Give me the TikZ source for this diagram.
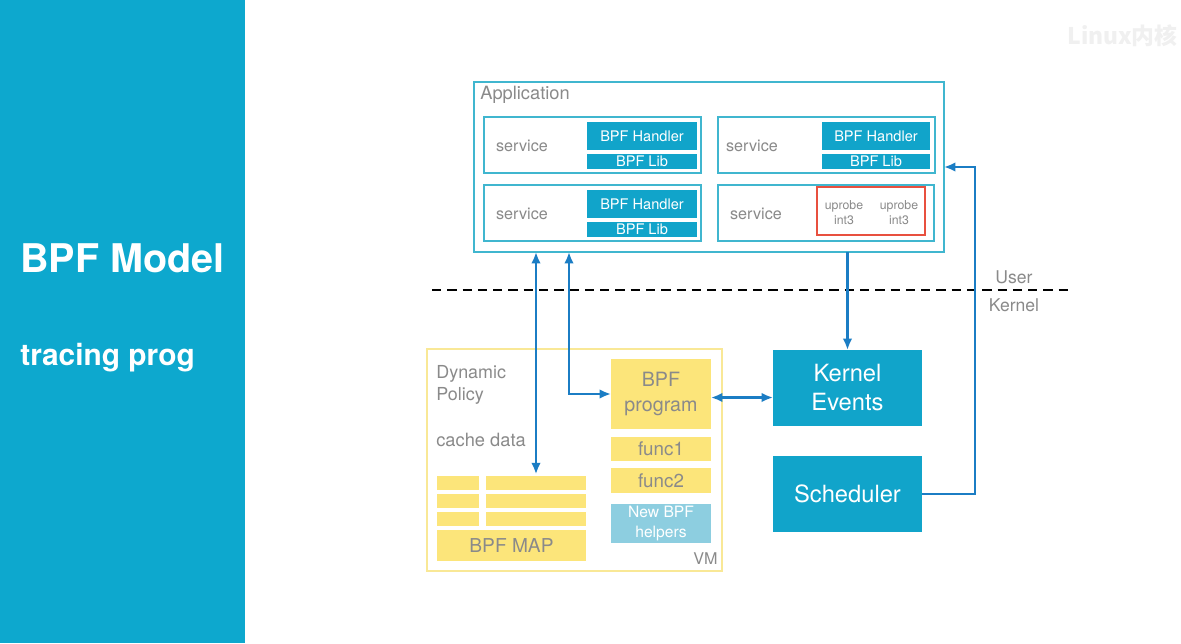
\documentclass[tikz,border=0pt]{standalone}
\usepackage{fontspec}
\setmainfont{TeX Gyre Heros}
\newfontfamily\cjk{Noto Sans CJK SC}
\usetikzlibrary{arrows.meta}

\newlength\unitpx
\setlength\unitpx{0.02cm}

\definecolor{panelblue}{HTML}{0DA8CE}
\definecolor{tealbox}{HTML}{11A4CA}
\definecolor{appline}{HTML}{40B6CF}
\definecolor{mapyellow}{HTML}{FCE57A}
\definecolor{vmline}{HTML}{F9E896}
\definecolor{helperblue}{HTML}{8DCEE0}
\definecolor{arrowblue}{HTML}{1B7DC4}
\definecolor{probered}{HTML}{E8503F}
\definecolor{txtgray}{HTML}{8A8A8A}

\tikzset{
  plainbox/.style = {rectangle, inner sep=0, outer sep=0},
  appbox/.style = {plainbox, draw=appline, line width=1.2pt},
  tealfill/.style = {plainbox, fill=tealbox, text=white},
  yellowfill/.style = {plainbox, fill=mapyellow, text=txtgray},
  graytext/.style = {inner sep=0, text=txtgray},
  arr/.style = {draw=arrowblue, line width=1.3pt},
}

\begin{document}
\begin{tikzpicture}[x=0.02cm, y=-0.02cm, >={Latex[length=6.5pt,width=5.5pt]}]
\useasboundingbox (0,0) rectangle (1181,643);
\fill[white] (0,0) rectangle (1181,643);

% left panel
\fill[panelblue] (0,0) rectangle (245,643);
\node[inner sep=0, anchor=west, text=white, font=\fontsize{22.5}{26}\selectfont\bfseries] (title) at (20,258) {BPF Model};
\node[inner sep=0, anchor=west, text=white, font=\fontsize{17}{20}\selectfont\bfseries] (subtitle) at (20,358) {tracing prog};

% watermark
\node[inner sep=0, anchor=east, text=black!6, font=\fontsize{13}{15}\selectfont\cjk\bfseries] (mark) at (1178,36) {Linux内核};

% user side
\node[appbox, minimum width=470\unitpx, minimum height=170\unitpx] (app) at (709,167) {};
\node[graytext, anchor=west, font=\fontsize{10.4}{12}\selectfont] (apptitle) at (480,95) {Application};

\node[appbox, minimum width=217\unitpx, minimum height=56\unitpx] (s1) at (592.5,145) {};
\node[appbox, minimum width=217\unitpx, minimum height=56\unitpx] (s2) at (826.5,145) {};
\node[appbox, minimum width=217\unitpx, minimum height=56\unitpx] (s3) at (592.5,213) {};
\node[appbox, minimum width=216\unitpx, minimum height=56\unitpx] (s4) at (826,213) {};

\node[graytext, font=\fontsize{9.2}{11}\selectfont] (t1) at (522,146) {service};
\node[graytext, font=\fontsize{9.2}{11}\selectfont] (t2) at (752,146) {service};
\node[graytext, font=\fontsize{9.2}{11}\selectfont] (t3) at (522,214) {service};
\node[graytext, font=\fontsize{9.2}{11}\selectfont] (t4) at (756,214) {service};

\node[tealfill, minimum width=110\unitpx, minimum height=28\unitpx, font=\fontsize{8.3}{10}\selectfont] (h1) at (642,136) {BPF Handler};
\node[tealfill, minimum width=110\unitpx, minimum height=15\unitpx, font=\fontsize{8.3}{10}\selectfont] (l1) at (642,161.5) {BPF Lib};
\node[tealfill, minimum width=108\unitpx, minimum height=28\unitpx, font=\fontsize{8.3}{10}\selectfont] (h2) at (876,136) {BPF Handler};
\node[tealfill, minimum width=108\unitpx, minimum height=15\unitpx, font=\fontsize{8.3}{10}\selectfont] (l2) at (876,161.5) {BPF Lib};
\node[tealfill, minimum width=110\unitpx, minimum height=28\unitpx, font=\fontsize{8.3}{10}\selectfont] (h3) at (642,204) {BPF Handler};
\node[tealfill, minimum width=110\unitpx, minimum height=15\unitpx, font=\fontsize{8.3}{10}\selectfont] (l3) at (642,229.5) {BPF Lib};

\node[plainbox, draw=probered, line width=1.3pt, minimum width=108\unitpx, minimum height=48\unitpx] (probe) at (871,211) {};
\node[graytext, align=center, font=\fontsize{7}{8.5}\selectfont] (u1) at (844,213) {uprobe\\int3};
\node[graytext, align=center, font=\fontsize{7}{8.5}\selectfont] (u2) at (899,213) {uprobe\\int3};

% user / kernel line
\coordinate (cutl) at (432,290);
\coordinate (cutr) at (1068,290);
\draw[line width=1.1pt, dash pattern=on 5.3pt off 3.4pt] (cutl) -- (cutr);
\node[graytext, font=\fontsize{10}{12}\selectfont] (user) at (1014,277) {User};
\node[graytext, font=\fontsize{10}{12}\selectfont] (kernel) at (1014,305) {Kernel};

% kernel side
\node[plainbox, draw=vmline, line width=1.2pt, minimum width=295\unitpx, minimum height=222\unitpx] (vm) at (574.5,460) {};
\node[graytext, anchor=west, align=left, font=\fontsize{10.2}{12.5}\selectfont] (policy) at (436,385) {Dynamic\\Policy};
\node[graytext, anchor=west, font=\fontsize{10.4}{12}\selectfont] (cache) at (436,440) {cache data};
\node[graytext, anchor=south east, font=\fontsize{9.2}{11}\selectfont] (vmname) at (718,565) {VM};

\node[yellowfill, minimum width=42\unitpx, minimum height=14\unitpx] (r1a) at (458,483) {};
\node[yellowfill, minimum width=100\unitpx, minimum height=14\unitpx] (r1b) at (536,483) {};
\node[yellowfill, minimum width=42\unitpx, minimum height=14\unitpx] (r2a) at (458,501) {};
\node[yellowfill, minimum width=100\unitpx, minimum height=14\unitpx] (r2b) at (536,501) {};
\node[yellowfill, minimum width=42\unitpx, minimum height=14\unitpx] (r3a) at (458,519) {};
\node[yellowfill, minimum width=100\unitpx, minimum height=14\unitpx] (r3b) at (536,519) {};
\node[yellowfill, minimum width=149\unitpx, minimum height=31\unitpx, font=\fontsize{10.9}{13}\selectfont] (map) at (511.5,545.5) {BPF MAP};

\node[yellowfill, align=center, minimum width=100\unitpx, minimum height=70\unitpx, font=\fontsize{11.2}{14.5}\selectfont] (prog) at (661,394) {BPF\\program};
\node[yellowfill, minimum width=100\unitpx, minimum height=24\unitpx, font=\fontsize{10.7}{13}\selectfont] (f1) at (661,449) {func1};
\node[yellowfill, minimum width=100\unitpx, minimum height=25\unitpx, font=\fontsize{10.7}{13}\selectfont] (f2) at (661,480.5) {func2};
\node[plainbox, fill=helperblue, text=white, align=center, minimum width=100\unitpx, minimum height=39\unitpx, font=\fontsize{8.9}{11}\selectfont] (helpers) at (661,523.5) {New BPF\\helpers};

\node[tealfill, align=center, minimum width=149\unitpx, minimum height=76\unitpx, font=\fontsize{13.5}{16.5}\selectfont] (events) at (847.5,388) {Kernel\\Events};
\node[tealfill, minimum width=149\unitpx, minimum height=76\unitpx, font=\fontsize{13.5}{16.5}\selectfont] (sched) at (847.5,494) {Scheduler};

% connectors
\coordinate (down2) at (569,252);
\coordinate (up5) at (975,167);
\draw[arr, <->] (app.south -| r1b.north) -- ([yshift=1pt]r1b.north);
\draw[arr, <->] (down2) |- (prog.west);
\draw[arr, ->] (app.south -| events.north) -- (events.north);
\draw[arr, <->] ([yshift=-2pt]prog.east) -- ([yshift=-2pt]prog.east -| events.west);
\draw[arr, ->] (sched.east) -| (up5) -- (app.east);
\end{tikzpicture}
\end{document}
